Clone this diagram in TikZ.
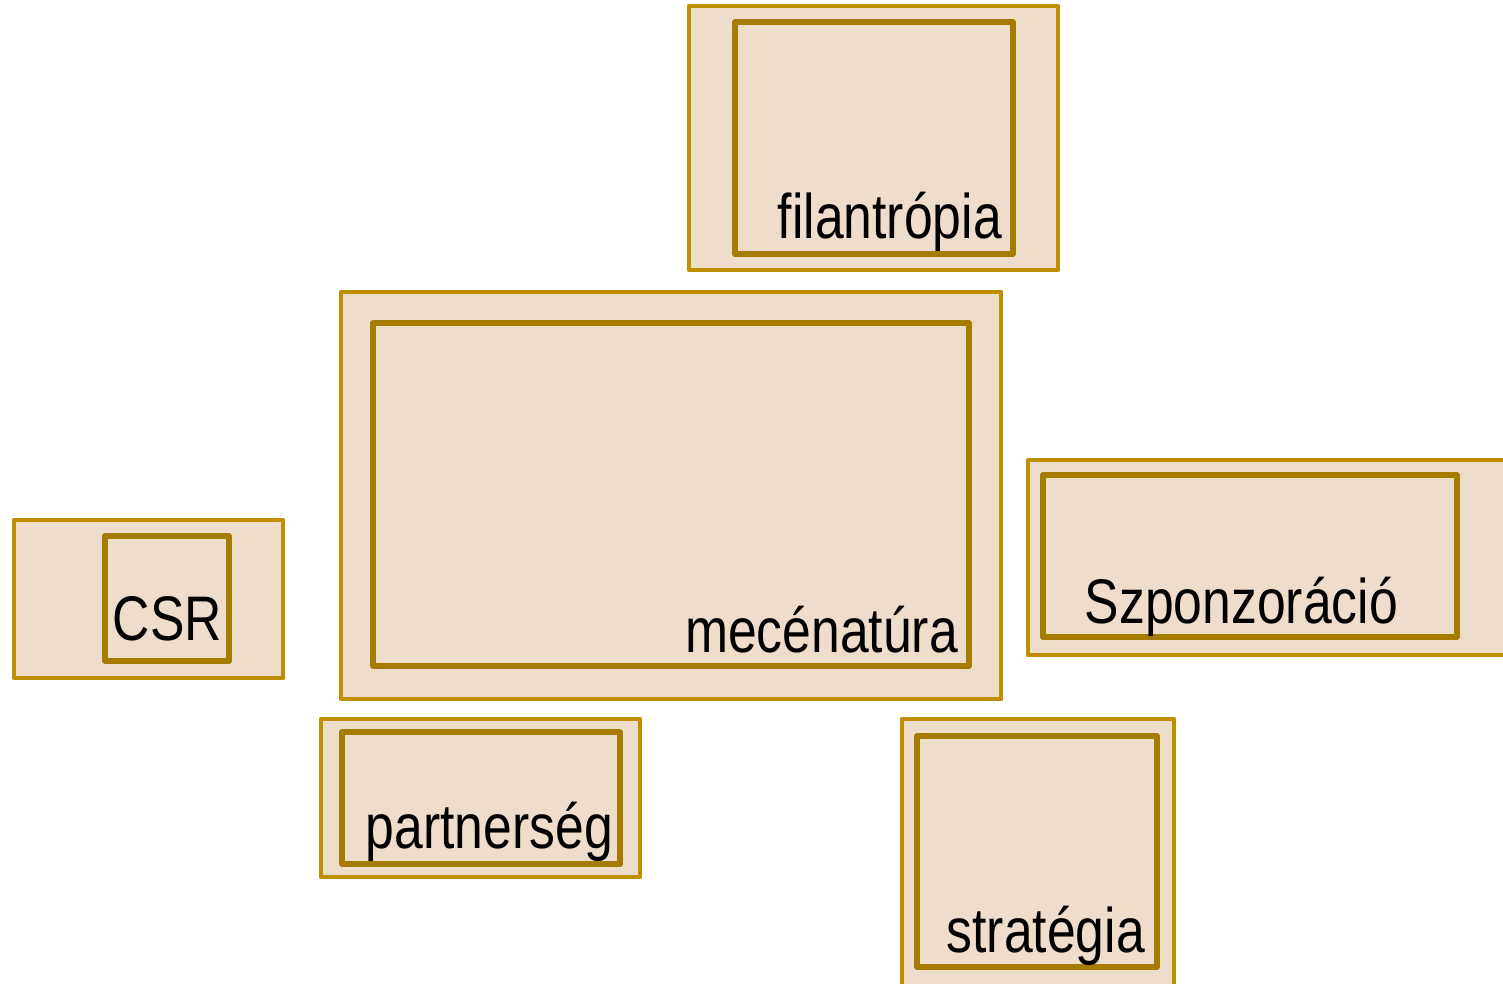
\documentclass[tikz,border=0pt]{standalone}
\usepackage{fontspec}
\setmainfont[FakeStretch=0.82]{Liberation Sans}
\definecolor{boxfill}{HTML}{EDDDCA}
\definecolor{outerline}{HTML}{BF8F00}
\definecolor{innerline}{HTML}{A57C00}
\begin{document}
\begin{tikzpicture}[x=1pt,y=-1pt,
  outerbox/.style={draw=outerline,fill=boxfill,line width=4.5pt,line join=round},
  innerbox/.style={draw=innerline,fill=boxfill,line width=5.5pt,line join=round},
  lbl/.style={anchor=base east,inner sep=0pt,font=\fontsize{63}{70}\selectfont,text=black}]
\useasboundingbox (0,0) rectangle (1503,983);
\clip (0,0) rectangle (1503,983);
% filantropia
\draw[outerbox] (689,6) rectangle (1058,270);
\draw[innerbox] (735,22) rectangle (1013,254);
\node[lbl] (fil) at (1002,238) {filantrópia};
% mecenatura
\draw[outerbox] (341,292) rectangle (1001,699);
\draw[innerbox] (373,323) rectangle (969,666);
\node[lbl] (mec) at (958,652) {mecénatúra};
% CSR
\draw[outerbox] (14,520) rectangle (283,678);
\draw[innerbox] (105,536) rectangle (229,661);
\node[lbl] (csr) at (222,640) {CSR};
% Szponzoracio
\draw[outerbox] (1028,460) rectangle (1515,655);
\draw[innerbox] (1043,475) rectangle (1457,637);
\node[lbl] (szp) at (1398,623) {Szponzoráció};
% partnerseg
\draw[outerbox] (321,719) rectangle (640,877);
\draw[innerbox] (342,732) rectangle (620,864);
\node[lbl] (par) at (613,848) {partnerség};
% strategia
\draw[outerbox] (902,719) rectangle (1174,995);
\draw[innerbox] (917,736) rectangle (1157,967);
\node[lbl] (str) at (1145,952) {stratégia};
\end{tikzpicture}
\end{document}
